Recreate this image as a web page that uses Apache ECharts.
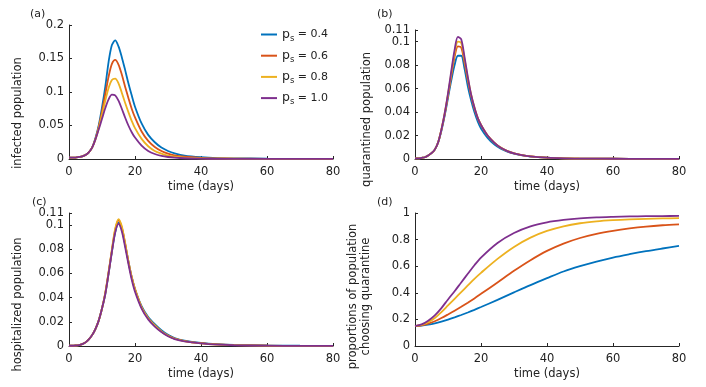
<!DOCTYPE html>
<html>
<head>
<meta charset="utf-8">
<script src="https://cdn.jsdelivr.net/npm/echarts@6/dist/echarts.min.js"></script>
<style>
html,body{margin:0;padding:0;background:#fff;}
#chart{width:706px;height:387px;}
</style>
</head>
<body>
<div id="chart"></div>
<script>
// ---------- data ----------
const psValues = ['0.4', '0.6', '0.8', '1.0'];
const colors = ['#0072BD', '#D95319', '#EDB120', '#7E2F8E'];

const days = [0,1,2,3,4,5,6,7,8,9,10,11,12,13,14,15,16,17,18,19,20,22,24,26,28,30,32,35,40,45,50,60,70,80];

// (a) infected population
const infBlue   = [0.002,0.002,0.002,0.003,0.004,0.006,0.010,0.017,0.031,0.050,0.077,0.108,0.145,0.170,0.177,0.168,0.152,0.133,0.113,0.095,0.078,0.053,0.036,0.025,0.017,0.012,0.0085,0.005,0.0026,0.0014,0.001,0.0005,0.0002,0.0001];
const infRed    = [0.002,0.002,0.002,0.003,0.004,0.006,0.010,0.017,0.030,0.048,0.071,0.097,0.123,0.142,0.148,0.141,0.126,0.108,0.091,0.075,0.062,0.041,0.027,0.018,0.012,0.008,0.0055,0.0035,0.0018,0.001,0.0006,0.0003,0.0001,0.0001];
const infYellow = [0.002,0.002,0.002,0.003,0.004,0.006,0.010,0.017,0.029,0.046,0.066,0.087,0.106,0.118,0.120,0.113,0.099,0.084,0.070,0.057,0.046,0.030,0.019,0.012,0.008,0.005,0.0034,0.002,0.001,0.0006,0.0004,0.0002,0.0001,0.0001];
const infPurple = [0.002,0.002,0.002,0.003,0.004,0.006,0.010,0.017,0.029,0.044,0.060,0.076,0.089,0.096,0.095,0.087,0.075,0.062,0.050,0.040,0.032,0.020,0.012,0.0075,0.0047,0.003,0.002,0.0011,0.0005,0.0003,0.0002,0.0001,0.0001,0.0001];

// (b) quarantined population
const quaBlue   = [0.0005,0.0005,0.001,0.0015,0.003,0.005,0.008,0.014,0.024,0.037,0.052,0.067,0.080,0.088,0.088,0.077,0.062,0.050,0.040,0.032,0.026,0.018,0.0125,0.0088,0.0062,0.0045,0.0033,0.0021,0.0011,0.0006,0.0004,0.0002,0.0001,0.0001];
const quaRed    = [0.0005,0.0005,0.001,0.0015,0.003,0.005,0.008,0.014,0.025,0.038,0.054,0.071,0.087,0.096,0.095,0.082,0.067,0.054,0.043,0.035,0.029,0.020,0.014,0.0095,0.0067,0.0048,0.0035,0.0022,0.0011,0.0006,0.0004,0.0002,0.0001,0.0001];
const quaYellow = [0.0005,0.0005,0.001,0.0015,0.003,0.005,0.008,0.014,0.025,0.039,0.055,0.073,0.090,0.100,0.099,0.085,0.069,0.055,0.044,0.035,0.029,0.020,0.014,0.0097,0.0068,0.0049,0.0036,0.0023,0.0012,0.0006,0.0004,0.0002,0.0001,0.0001];
const quaPurple = [0.0005,0.0005,0.001,0.0015,0.003,0.005,0.008,0.014,0.025,0.039,0.056,0.075,0.093,0.104,0.102,0.087,0.070,0.055,0.044,0.035,0.029,0.020,0.014,0.0095,0.0067,0.0048,0.0035,0.0022,0.0011,0.0006,0.0004,0.0002,0.0001,0.0001];

// (c) hospitalized population
const hosBlue   = [0.0002,0.0002,0.0004,0.0008,0.0016,0.003,0.0055,0.009,0.014,0.021,0.031,0.043,0.060,0.078,0.094,0.102,0.097,0.084,0.070,0.057,0.047,0.033,0.024,0.018,0.013,0.0092,0.0066,0.0045,0.0026,0.0015,0.0009,0.0004,0.0002,0.0001];
const hosRed    = [0.0002,0.0002,0.0004,0.0008,0.0016,0.003,0.0055,0.009,0.014,0.021,0.031,0.044,0.061,0.079,0.096,0.104,0.098,0.085,0.070,0.057,0.047,0.032,0.023,0.017,0.012,0.0086,0.0061,0.0041,0.0023,0.0013,0.0008,0.0003,0.0001,0.0001];
const hosYellow = [0.0002,0.0002,0.0004,0.0008,0.0016,0.003,0.0055,0.009,0.014,0.021,0.031,0.044,0.061,0.080,0.097,0.105,0.099,0.085,0.070,0.057,0.047,0.032,0.023,0.017,0.012,0.0085,0.006,0.004,0.0022,0.0012,0.0007,0.0003,0.0001,0.0001];
const hosPurple = [0.0002,0.0002,0.0004,0.0008,0.0016,0.003,0.0055,0.009,0.014,0.021,0.031,0.043,0.060,0.078,0.094,0.101,0.095,0.082,0.068,0.055,0.045,0.031,0.022,0.016,0.0115,0.008,0.0057,0.0038,0.0021,0.0011,0.0006,0.0003,0.0001,0.0001];

// (d) proportion of population choosing quarantine
const daysD = [0,2,4,6,8,10,12,14,16,18,20,25,30,35,40,45,50,55,60,65,70,75,80];
const propBlue   = [0.15,0.153,0.16,0.17,0.183,0.198,0.215,0.233,0.252,0.272,0.293,0.347,0.403,0.458,0.510,0.560,0.600,0.635,0.665,0.690,0.713,0.733,0.752];
const propRed    = [0.15,0.156,0.168,0.186,0.210,0.237,0.265,0.295,0.326,0.358,0.392,0.478,0.565,0.645,0.715,0.770,0.812,0.843,0.866,0.884,0.898,0.908,0.915];
const propYellow = [0.15,0.158,0.178,0.210,0.255,0.305,0.355,0.405,0.455,0.505,0.550,0.655,0.745,0.815,0.865,0.900,0.923,0.937,0.946,0.952,0.956,0.959,0.961];
const propPurple = [0.15,0.162,0.190,0.230,0.285,0.350,0.412,0.478,0.543,0.607,0.665,0.775,0.850,0.900,0.930,0.948,0.960,0.967,0.971,0.974,0.976,0.977,0.978];

// tick labels
const xTicks  = [0, 20, 40, 60, 80];
const yTicksA = [0, 0.05, 0.1, 0.15, 0.2];
const yTicksB = [0, 0.02, 0.04, 0.06, 0.08, 0.1, 0.11];
const yTicksC = [0, 0.02, 0.04, 0.06, 0.08, 0.1, 0.11];
const yTicksD = [0, 0.2, 0.4, 0.6, 0.8, 1];

// ---------- chart ----------
const FONT = 'DejaVu Sans';
const TXT = '#222';
const FS = 11.5;

const panels = [
  { grid: {left: 69, top: 25, width: 264, height: 134}, ticks: yTicksA, splitTop: false, name: 'infected population', pad: 42, gap: 44, data: [infBlue, infRed, infYellow, infPurple], x: days },
  { grid: {left: 415, top: 25, width: 264, height: 134}, ticks: yTicksB, splitTop: true, name: 'quarantined population', pad: 50, gap: 41, data: [quaBlue, quaRed, quaYellow, quaPurple], x: days },
  { grid: {left: 69, top: 213, width: 264, height: 133}, ticks: yTicksC, splitTop: true, name: 'hospitalized population', pad: 50, gap: 44, data: [hosBlue, hosRed, hosYellow, hosPurple], x: days },
  { grid: {left: 415, top: 213, width: 264, height: 133}, ticks: yTicksD, splitTop: false, name: 'proportions of population\nchoosing quarantine', pad: 34, gap: 42, data: [propBlue, propRed, propYellow, propPurple], x: daysD }
];

const labelFmt = v => String(+v.toFixed(3));
const grids = [], xAxes = [], yAxes = [], extraY = [], series = [];
panels.forEach((p, i) => {
  const yMin = p.ticks[0], yMax = p.ticks[p.ticks.length - 1];
  const mainTicks = p.splitTop ? p.ticks.slice(0, -1) : p.ticks;
  grids.push(Object.assign({containLabel: false}, p.grid));
  xAxes.push({
    gridIndex: i, type: 'value', min: xTicks[0], max: xTicks[xTicks.length - 1],
    name: 'time (days)', nameLocation: 'middle', nameGap: 22,
    nameTextStyle: {fontFamily: FONT, fontSize: FS, color: TXT},
    axisLine: {show: true, onZero: false, lineStyle: {color: '#262626', width: 1}},
    axisTick: {show: true, inside: true, length: 3, lineStyle: {color: '#262626'}, customValues: xTicks},
    axisLabel: {fontFamily: FONT, fontSize: FS, color: TXT, margin: 7, customValues: xTicks},
    splitLine: {show: false}
  });
  yAxes.push({
    gridIndex: i, type: 'value', min: yMin, max: yMax,
    name: p.name, nameLocation: 'middle', nameGap: p.gap, nameMoveOverlap: false,
    nameTextStyle: {fontFamily: FONT, fontSize: FS, color: TXT, padding: [0, p.pad, 0, 0], lineHeight: 13},
    axisLine: {show: true, onZero: false, lineStyle: {color: '#262626', width: 1}},
    axisTick: {show: true, inside: true, length: 3, lineStyle: {color: '#262626'}, customValues: mainTicks},
    axisLabel: {fontFamily: FONT, fontSize: FS, color: TXT, margin: 5, hideOverlap: false,
      showMinLabel: true, showMaxLabel: true, customValues: mainTicks, formatter: labelFmt},
    splitLine: {show: false}
  });
  if (p.splitTop) {
    // separate label/tick for the top value (kept apart so the close "0.1"/"0.11" pair both show)
    const top = p.ticks.slice(-1);
    extraY.push({
      gridIndex: i, type: 'value', min: yMin, max: yMax, position: 'left', offset: 0,
      axisLine: {show: false, onZero: false},
      axisTick: {show: true, inside: true, length: 3, lineStyle: {color: '#262626'}, customValues: top},
      axisLabel: {fontFamily: FONT, fontSize: FS, color: TXT, margin: 5, showMinLabel: true, showMaxLabel: true,
        customValues: top, formatter: labelFmt},
      splitLine: {show: false}
    });
  }
  p.data.forEach((arr, k) => {
    series.push({
      type: 'line', name: 'ps = ' + psValues[k], xAxisIndex: i, yAxisIndex: i,
      data: p.x.map((t, j) => [t, arr[j]]),
      showSymbol: false, symbol: 'none', smooth: 0.3,
      lineStyle: {color: colors[k], width: 1.8},
      itemStyle: {color: colors[k]},
      emphasis: {disabled: true}
    });
  });
});

const chart = echarts.init(document.getElementById('chart'), null, {renderer: 'canvas'});
chart.setOption({
  animation: false,
  backgroundColor: '#fff',
  color: colors,
  title: [
    {text: '(a)', left: 30, top: 9},
    {text: '(b)', left: 377, top: 9},
    {text: '(c)', left: 32, top: 197},
    {text: '(d)', left: 377, top: 197}
  ].map(t => Object.assign(t, {padding: 0, textStyle: {fontFamily: FONT, fontSize: 11, fontWeight: 'normal', color: TXT}})),
  legend: {
    orient: 'vertical', left: 261, top: 28, itemWidth: 16, itemHeight: 2, itemGap: 6.2,
    icon: 'rect',
    selectedMode: false, padding: 0,
    data: psValues.map(v => 'ps = ' + v),
    formatter: n => '{p|p}{s|s}{t| = ' + n.split('= ')[1] + '}',
    textStyle: {
      fontFamily: FONT, color: TXT,
      rich: {
        p: {fontFamily: FONT, fontSize: 12.5, color: TXT, lineHeight: 14, verticalAlign: 'middle'},
        s: {fontFamily: FONT, fontSize: 8.5, color: TXT, lineHeight: 17, verticalAlign: 'bottom'},
        t: {fontFamily: FONT, fontSize: 11, color: TXT, lineHeight: 14, verticalAlign: 'middle'}
      }
    }
  },
  grid: grids,
  xAxis: xAxes,
  yAxis: yAxes.concat(extraY),
  series: series
});
</script>
</body>
</html>
